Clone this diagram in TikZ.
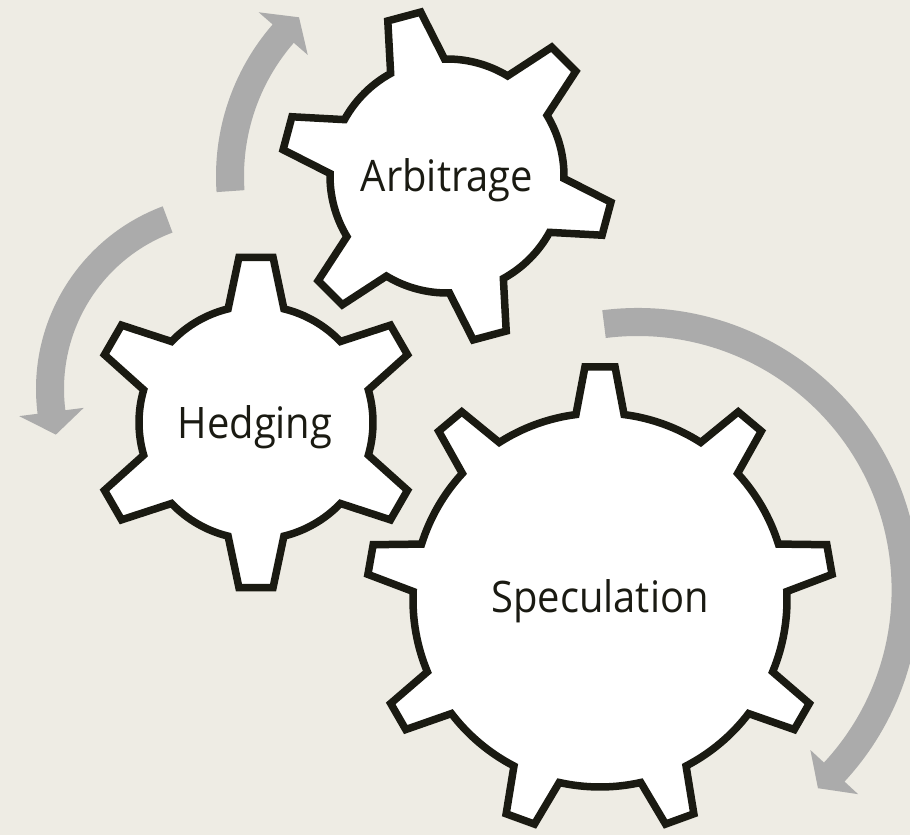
\documentclass[tikz,border=0pt]{standalone}
\usepackage{fontspec}
\setmainfont[FakeStretch=0.92]{Open Sans}
\definecolor{paper}{HTML}{EEECE4}
\definecolor{arrowgray}{HTML}{ABABAB}
\definecolor{gearink}{HTML}{1A1A12}

% #1 centre, #2 number of teeth, #3 angle of first tooth,
% #4 body radius, #5 tip radius, #6 half angle at tooth root, #7 half angle at tooth tip
\newcommand\drawgear[7]{%
  \begin{scope}[shift={(#1)}]
    \pgfmathsetmacro\gstep{360/#2}
    \draw[gear] ({#3-#6}:#4)
      \foreach \k [evaluate=\k as \t using {#3+(\k-1)*\gstep}] in {1,...,#2} {
        -- ({\t-#7}:#5) -- ({\t+#7}:#5) -- ({\t+#6}:#4)
        arc[start angle={\t+#6}, end angle={\t+\gstep-#6}, radius=#4]
      } -- cycle;
  \end{scope}}

% curved band with a short wide head
% #1 centre, #2 start angle, #3 end angle, #4 tip angle,
% #5 outer radius, #6 inner radius, #7 outer wing radius, #8 inner wing radius, #9 mid radius
\newcommand\turnarrow[9]{%
  \begin{scope}[shift={(#1)}]
    \fill[arrowband] (#2:#5) arc[start angle=#2, end angle=#3, radius=#5]
      -- (#3:#7) -- (#4:#9) -- (#3:#8) -- (#3:#6)
      arc[start angle=#3, end angle=#2, radius=#6] -- cycle;
  \end{scope}}

\begin{document}
\begin{tikzpicture}[x=1pt,y=1pt,
  gear/.style={draw=gearink, fill=white, line width=7.5pt, line join=miter},
  arrowband/.style={fill=arrowgray},
  gearlabel/.style={font=\fontsize{43.4}{52}\selectfont, text=gearink,
                    inner sep=0pt, anchor=base}]

\fill[paper] (0,0) rectangle (910,835);
\useasboundingbox (0,0) rectangle (910,835);
\clip (0,0) rectangle (910,835);

% gear centres
\coordinate (arbc) at (447,659);
\coordinate (hedc) at (256,412.5);
\coordinate (specc) at (600,235);
% centres of the turning arrows
\coordinate (arrowA) at (447,659);
\coordinate (arrowB) at (231,446);
\coordinate (arrowC) at (637.6,245);

% turning arrows
\turnarrow{arrowA}{184}{139}{133}{231}{203}{249.5}{184.5}{217}
\turnarrow{arrowB}{110.5}{187.3}{194.6}{195}{167}{213.5}{148.5}{181}
\turnarrow{arrowC}{97.2}{-42.8}{-47.7}{282}{254}{300.5}{235.5}{268}

% gears
\drawgear{hedc}{6}{30}{117}{166}{13.8}{5.9}
\drawgear{arbc}{6}{45}{117}{166}{13.8}{5.9}
\drawgear{specc}{9}{90}{187}{233.5}{7.4}{3.7}

% labels
\node[gearlabel] (arb) at (447,643) {Arbitrage};
\node[gearlabel] (hed) at (255,396) {Hedging};
\node[gearlabel] (spec) at (600,222) {Speculation};
\end{tikzpicture}
\end{document}
